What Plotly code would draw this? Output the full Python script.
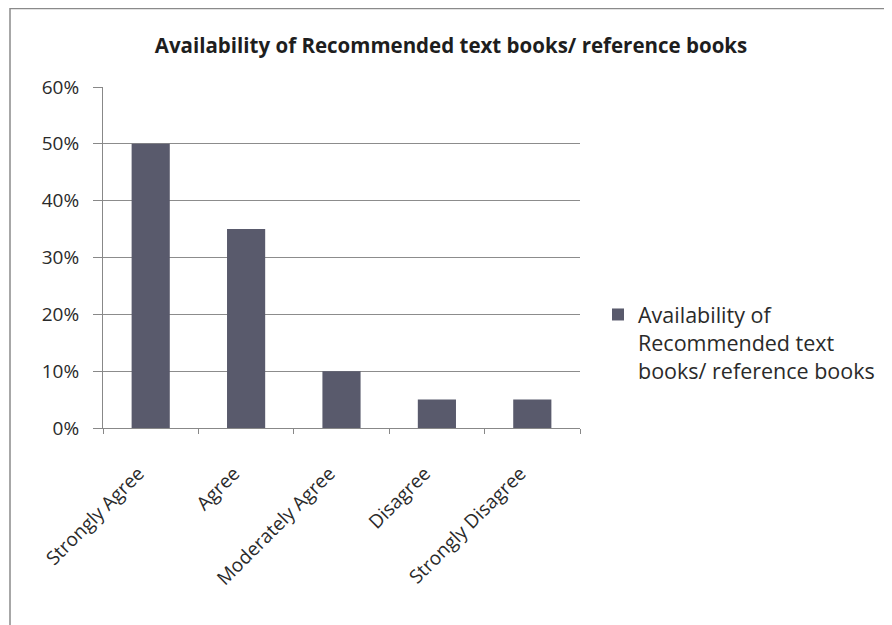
import plotly.graph_objects as go

categories = ["Strongly Agree", "Agree", "Moderately Agree", "Disagree", "Strongly Disagree"]
values = [0.50, 0.35, 0.10, 0.05, 0.05]
series_name = "Availability of<br>Recommended text<br>books/ reference books"
title_text = "Availability of Recommended text books/ reference books"
y_ticks = [0, 0.1, 0.2, 0.3, 0.4, 0.5, 0.6]

OFF = 8  # page body margin
W, H = 892 - OFF, 625 - OFF
L, R, T, B = 103 - OFF, 580 - OFF, 87 - OFF, 428 - OFF

fig = go.Figure()
fig.add_trace(go.Bar(
    x=categories, y=values, name=series_name,
    marker=dict(color="#595a6c", line=dict(width=0)),
    width=0.4, showlegend=True,
))

def px_x(p):
    return (p - OFF - L) / (R - L)

def px_y(p):
    return (B - (p - OFF)) / (B - T)

fig.update_layout(
    width=W, height=H,
    margin=dict(l=L, r=W - R, t=T, b=H - B, autoexpand=False),
    paper_bgcolor="white", plot_bgcolor="white",
    font=dict(family="Open Sans, Liberation Sans, sans-serif", color="#2a2a2a", size=17),
    title=dict(text="<b>" + title_text + "</b>", x=(451 - OFF) / W, xanchor="center",
               y=1 - (46 - OFF) / H, yanchor="middle", font=dict(size=20.5, color="#1e1e1e")),
    showlegend=True,
    legend=dict(x=px_x(598), xanchor="left", y=px_y(294), yanchor="top",
                valign="top", font=dict(size=21.5, color="#2a2a2a"),
                bgcolor="rgba(0,0,0,0)", itemwidth=30),
    shapes=[dict(type="rect", xref="paper", yref="paper",
                 x0=px_x(10), x1=px_x(889), y0=px_y(630), y1=px_y(8.5),
                 line=dict(color="#8a8a8a", width=1.5), fillcolor="rgba(0,0,0,0)",
                 layer="below")],
)

fig.update_xaxes(
    type="category", tickangle=-45, tickson="boundaries",
    ticks="outside", ticklen=5, tickcolor="#888888",
    showline=True, linecolor="#888888", linewidth=1,
    showgrid=False, tickfont=dict(size=19, color="#2a2a2a"),
    ticklabelstandoff=26, ticklabelshift=-12,
)
fig.update_yaxes(
    range=[0, 0.6], tickvals=y_ticks, tickformat=".0%",
    ticks="outside", ticklen=9, tickcolor="#888888",
    showline=True, linecolor="#888888", linewidth=1,
    showgrid=True, gridcolor="#8c8c8c", gridwidth=1,
    zeroline=False, tickfont=dict(size=19, color="#2a2a2a"),
    ticklabelstandoff=10,
)

fig.write_html("out.html")
